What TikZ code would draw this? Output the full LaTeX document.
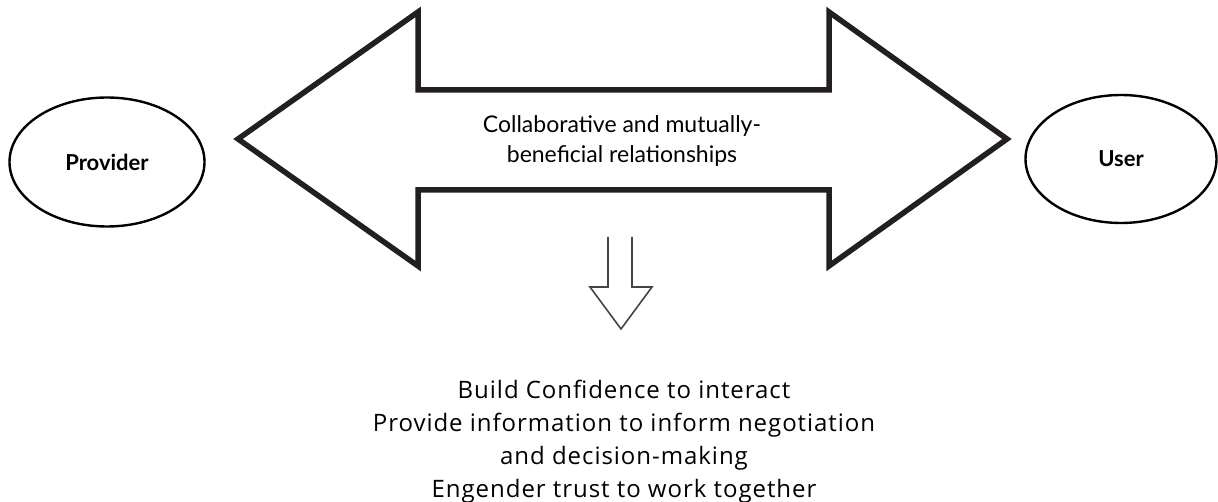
\documentclass[tikz,border=0pt]{standalone}
\usepackage{fontspec}
\usetikzlibrary{shapes.geometric}
\setmainfont{Lato}
\newfontfamily\bottomfont[LetterSpace=4]{Open Sans}
\begin{document}
\begin{tikzpicture}[x=1pt,y=1pt,
  bigarrow/.style={draw=arrowblack,line width=5.5pt,line join=miter,fill=white},
  downarrow/.style={draw=downgray,line width=1.6pt,line join=miter},
  actor/.style={draw=black,line width=2.4pt,ellipse,inner sep=0pt},
  actorlabel/.style={font=\fontsize{22}{26}\selectfont\bfseries},
  midlabel/.style={font=\fontsize{23}{30}\selectfont,align=center},
  outlabel/.style={font=\bottomfont\fontsize{24}{33}\selectfont,align=center}]
\definecolor{arrowblack}{HTML}{231F20}
\definecolor{downgray}{HTML}{444444}
\useasboundingbox (0,0) rectangle (1218,-502);
% actors
\node[actor,minimum width=195pt,minimum height=129pt] (prov) at (107,-162) {};
\node[actorlabel] (provtext) at (prov.center) {Provider};
\node[actor,minimum width=191pt,minimum height=128pt] (user) at (1121,-159) {};
\node[actorlabel] (usertext) at (user.center) {User};
% double arrow
\coordinate (ltip) at (238,-139);
\coordinate (rtip) at (1007,-139);
\draw[bigarrow] (ltip) -- (418,-12) -- (418,-90) -- (829,-90) -- (829,-12)
  -- (rtip) -- (829,-266) -- (829,-190) -- (418,-190) -- (418,-266) -- cycle;
\node[midlabel] (rel) at (622,-141) {Collaborative and mutually-\\beneficial relationships};
% down arrow
\coordinate (dtip) at (621,-329);
\draw[downarrow] (608,-237) -- (608,-287) -- (590,-287) -- (dtip) -- (652,-287)
  -- (632,-287) -- (632,-237);
% outcome text
\node[outlabel] (out) at (624,-442) {Build Confidence to interact\\Provide information to inform negotiation\\and decision-making\\Engender trust to work together};
\end{tikzpicture}
\end{document}
